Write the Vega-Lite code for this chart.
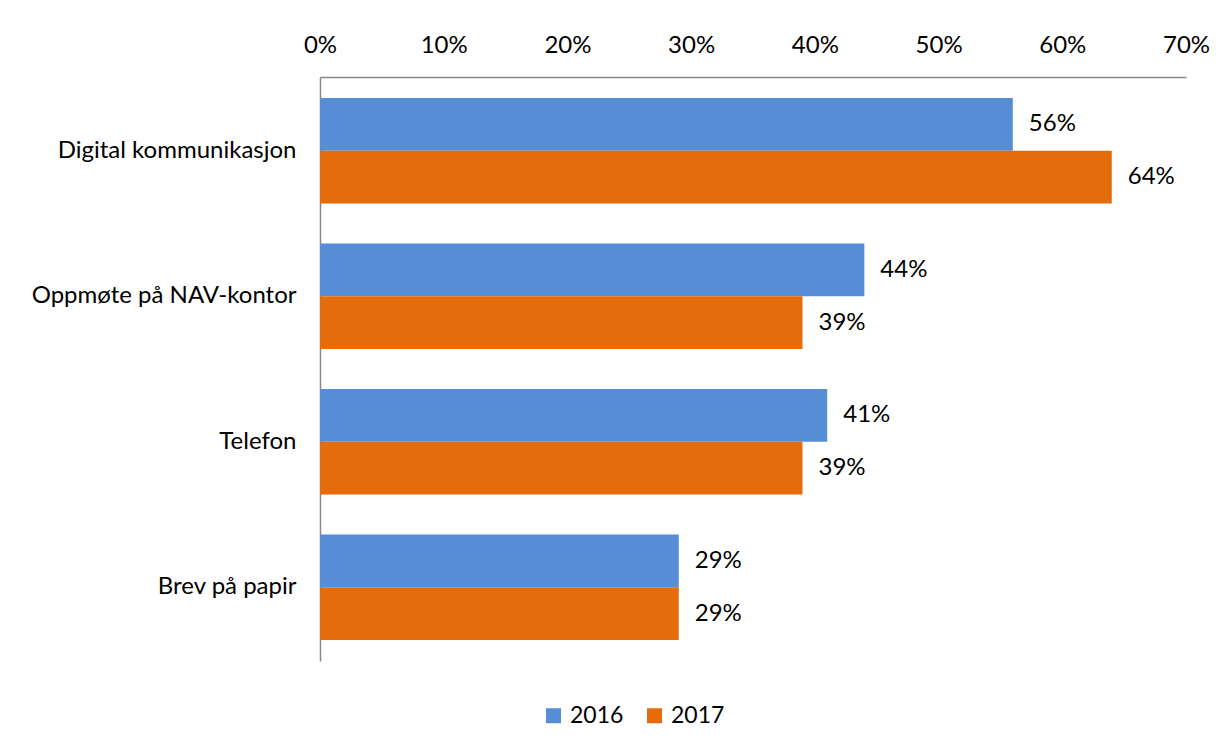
{
  "$schema": "https://vega.github.io/schema/vega-lite/v6.json",
  "autosize": {"type": "none"},
  "width": 866,
  "height": 584,
  "padding": {"left": 320, "top": 77, "right": 44, "bottom": 86},
  "background": "white",
  "config": {"view": {"stroke": null}, "font": "Lato"},
  "data": {
    "values": [
      {"channel": "Digital kommunikasjon", "year": "2016", "value": 0.56},
      {"channel": "Digital kommunikasjon", "year": "2017", "value": 0.64},
      {"channel": "Oppmøte på NAV-kontor", "year": "2016", "value": 0.44},
      {"channel": "Oppmøte på NAV-kontor", "year": "2017", "value": 0.39},
      {"channel": "Telefon", "year": "2016", "value": 0.41},
      {"channel": "Telefon", "year": "2017", "value": 0.39},
      {"channel": "Brev på papir", "year": "2016", "value": 0.29},
      {"channel": "Brev på papir", "year": "2017", "value": 0.29}
    ]
  },
  "encoding": {
    "y": {
      "field": "channel",
      "type": "nominal",
      "sort": ["Digital kommunikasjon", "Oppmøte på NAV-kontor", "Telefon", "Brev på papir"],
      "scale": {"paddingInner": 0.274, "paddingOuter": 0.144},
      "axis": {
        "title": null,
        "ticks": false,
        "labelPadding": 24,
        "labelFontSize": 24,
        "labelColor": "black",
        "domainColor": "#888888",
        "domainWidth": 1.5,
        "labelLimit": 400
      }
    },
    "yOffset": {"field": "year", "type": "nominal", "scale": {"paddingInner": 0, "paddingOuter": 0}},
    "x": {
      "field": "value",
      "type": "quantitative",
      "scale": {"domain": [0, 0.7], "nice": false},
      "axis": {
        "orient": "top",
        "format": ".0%",
        "values": [0, 0.1, 0.2, 0.3, 0.4, 0.5, 0.6, 0.7],
        "grid": false,
        "ticks": false,
        "labelFlush": false,
        "domainColor": "#888888",
        "domainWidth": 1.5,
        "labelFontSize": 24,
        "labelPadding": 20,
        "labelColor": "black",
        "title": null
      }
    }
  },
  "layer": [
    {
      "mark": {"type": "bar"},
      "encoding": {
        "color": {
          "field": "year",
          "type": "nominal",
          "scale": {"domain": ["2016", "2017"], "range": ["#558ED5", "#E46C0A"]},
          "legend": {
            "title": null,
            "orient": "none",
            "legendX": 222,
            "legendY": 627,
            "direction": "horizontal",
            "symbolType": "square",
            "symbolSize": 225,
            "symbolStrokeWidth": 0,
            "labelFontSize": 23,
            "labelColor": "black",
            "labelOffset": 5,
            "columnPadding": 19
          }
        }
      }
    },
    {
      "mark": {"type": "text", "align": "left", "baseline": "middle", "dx": 16, "fontSize": 24, "color": "black"},
      "encoding": {"text": {"field": "value", "type": "quantitative", "format": ".0%"}}
    }
  ]
}
